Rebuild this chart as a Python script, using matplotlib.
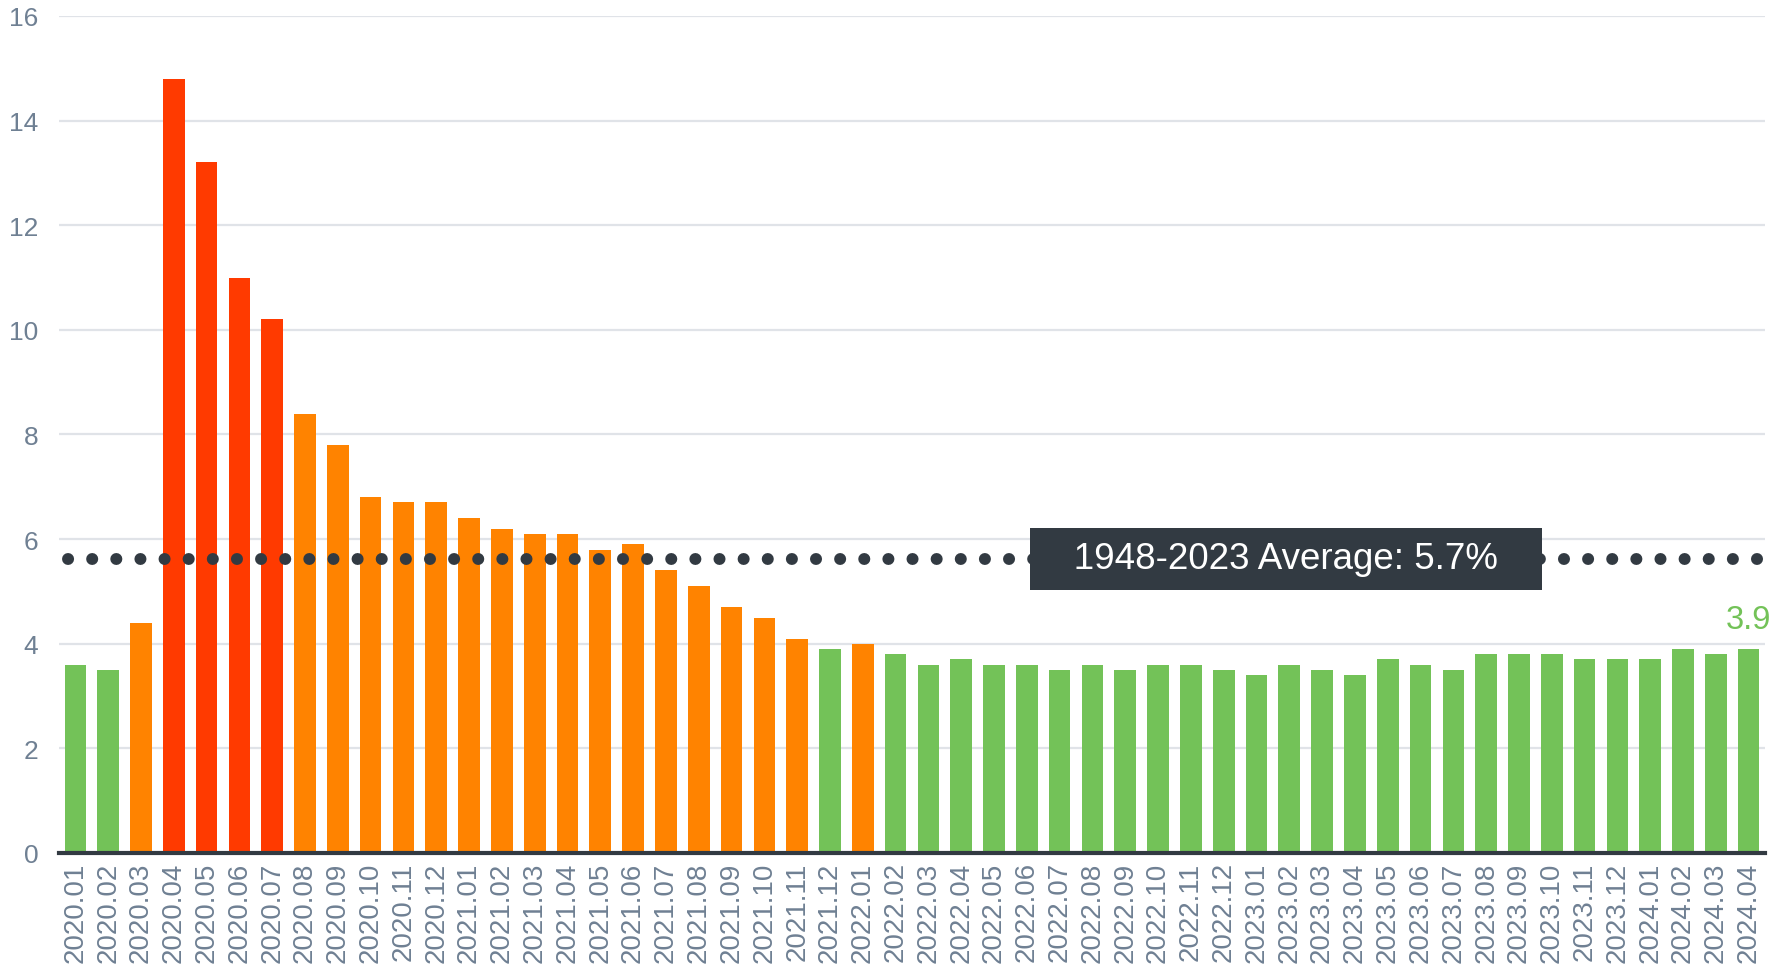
import matplotlib
matplotlib.use("Agg")
import matplotlib.pyplot as plt

# Monthly values, 2020.01 - 2024.04
months = [
    "2020.01", "2020.02", "2020.03", "2020.04", "2020.05", "2020.06", "2020.07", "2020.08",
    "2020.09", "2020.10", "2020.11", "2020.12",
    "2021.01", "2021.02", "2021.03", "2021.04", "2021.05", "2021.06", "2021.07", "2021.08",
    "2021.09", "2021.10", "2021.11", "2021.12",
    "2022.01", "2022.02", "2022.03", "2022.04", "2022.05", "2022.06", "2022.07", "2022.08",
    "2022.09", "2022.10", "2022.11", "2022.12",
    "2023.01", "2023.02", "2023.03", "2023.04", "2023.05", "2023.06", "2023.07", "2023.08",
    "2023.09", "2023.10", "2023.11", "2023.12",
    "2024.01", "2024.02", "2024.03", "2024.04",
]
values = [
    3.6, 3.5, 4.4, 14.8, 13.2, 11.0, 10.2, 8.4, 7.8, 6.8, 6.7, 6.7,
    6.4, 6.2, 6.1, 6.1, 5.8, 5.9, 5.4, 5.1, 4.7, 4.5, 4.1, 3.9,
    4.0, 3.8, 3.6, 3.7, 3.6, 3.6, 3.5, 3.6, 3.5, 3.6, 3.6, 3.5,
    3.4, 3.6, 3.5, 3.4, 3.7, 3.6, 3.5, 3.8, 3.8, 3.8, 3.7, 3.7,
    3.7, 3.9, 3.8, 3.9,
]
average = 5.62
average_label = "1948-2023 Average: 5.7%"

GREEN = "#73c258"
ORANGE = "#ff8300"
RED = "#ff3a00"
DARK = "#323a42"
GRAY = "#6f8093"


def bar_color(v):
    if v >= 10:
        return RED
    if v >= 4:
        return ORANGE
    return GREEN


plt.rcParams["font.family"] = ["Liberation Sans", "DejaVu Sans"]

fig = plt.figure(figsize=(17.87, 9.70), dpi=100)
ax = fig.add_axes([0.033, 0.1196, 0.9547, 0.8629])

x = list(range(len(values)))
colors = [bar_color(v) for v in values]
ax.bar(x, values, width=0.66, color=colors, zorder=2)

# Average line (big round dots)
ax.plot([-0.23, 51.54], [average, average], linestyle=(0, (0.01, 2.01)),
        dash_capstyle="round", color=DARK, linewidth=8.6, zorder=3, clip_on=False)

# Average label box
ax.text(36.9, average, "   " + average_label + "   ", ha="center", va="center",
        fontsize=26.5, color="white", zorder=4,
        bbox=dict(boxstyle="square,pad=0.36", facecolor=DARK, edgecolor="none"))

# Last value label
ax.annotate(f"{values[-1]}", xy=(x[-1], values[-1]), xytext=(0, 10),
            textcoords="offset points", ha="center", va="bottom",
            fontsize=23.5, color=GREEN)

ax.set_xlim(-0.5, len(values) - 0.5)
ax.set_ylim(0, 16)
ax.set_yticks(range(0, 17, 2))
ax.set_xticks(x)
ax.set_xticklabels(months, rotation=90, fontsize=20, color=GRAY)
ax.tick_params(axis="y", labelsize=19, labelcolor=GRAY, length=0, pad=15)
ax.tick_params(axis="x", length=0, pad=6)

ax.grid(axis="y", color="#e0e3e8", linewidth=1.6, zorder=0)
ax.set_axisbelow(True)
for side in ["left", "right", "top"]:
    ax.spines[side].set_visible(False)
ax.spines["bottom"].set_color(DARK)
ax.spines["bottom"].set_linewidth(3)
ax.spines["bottom"].set_zorder(5)

fig.savefig("out.png", dpi=100)
